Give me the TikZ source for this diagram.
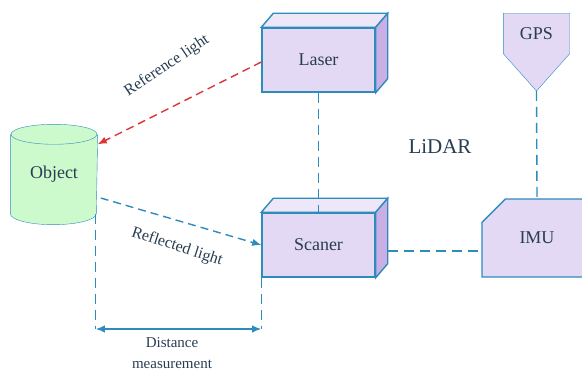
\documentclass[tikz,border=0pt]{standalone}
\usepackage{fontspec}
\setmainfont{Liberation Serif}
\usetikzlibrary{arrows.meta,shapes.misc,backgrounds}

\definecolor{linea}{RGB}{45,140,188}
\definecolor{rojo}{RGB}{218,52,52}
\definecolor{texto}{RGB}{40,60,82}
\definecolor{lila}{RGB}{227,217,245}
\definecolor{lilaclaro}{RGB}{238,231,250}
\definecolor{liladark}{RGB}{202,174,230}
\definecolor{verde}{RGB}{205,250,205}

\begin{document}
\begin{tikzpicture}[x=1pt,y=-1pt,line width=1.4pt,>={Latex[length=3.2mm,width=2.6mm]},
  caja/.style={draw=linea,fill=lila,minimum width=113pt,minimum height=64pt,inner sep=0pt,
    text=texto,font=\fontsize{18}{20}\selectfont},
  enlace/.style={draw=linea,dash pattern=on 10pt off 6pt},
  etiqueta/.style={text=texto,inner sep=0pt}]
  \useasboundingbox (0,0) rectangle (582,371);

  % cajas del LiDAR
  \node[caja] (laser) at (318.5,60) {Laser};
  \node[caja] (scaner) at (318.5,245) {Scaner};
  \foreach \n in {laser,scaner}{
    \draw[linea,fill=lilaclaro] (\n.north west) -- ++(12,-14) -- ([shift={(12,-14)}]\n.north east) -- (\n.north east) -- cycle;
    \draw[linea,fill=liladark] (\n.north east) -- ++(12,-14) -- ([shift={(12,-14)}]\n.south east) -- (\n.south east) -- cycle;
  }
  \node[caja,chamfered rectangle,chamfered rectangle corners=north west,
    chamfered rectangle xsep=27pt,chamfered rectangle ysep=31pt,
    minimum width=110pt,minimum height=78pt] (imu) at (537,238) {IMU};

  % GPS (pentagono)
  \node[etiqueta,minimum width=65pt,minimum height=39pt,font=\fontsize{18}{20}\selectfont] (gps) at (536.5,33.5) {GPS};
  \coordinate (gpspunta) at (536.5,91);
  \begin{scope}[on background layer]
    \draw[linea,fill=lila] (gps.north west) -- (gps.north east) -- (gps.south east) -- (gpspunta) -- (gps.south west) -- cycle;
  \end{scope}

  % objeto (cilindro)
  \node[etiqueta,minimum width=86pt,minimum height=78pt,font=\fontsize{18}{20}\selectfont] (object) at (54,174) {Object};
  \begin{scope}[on background layer]
    \draw[linea,fill=verde] (object.north west) -- (object.south west)
      arc[start angle=180,end angle=360,x radius=43pt,y radius=11pt] -- (object.north east);
    \draw[linea,fill=verde] (object.north) ellipse[x radius=43pt,y radius=10pt];
  \end{scope}

  \node[etiqueta,font=\fontsize{21}{24}\selectfont] (lidar) at (440,147) {LiDAR};

  % conexiones
  \draw[enlace] (laser.south) -- (scaner.north);
  \draw[enlace] ([shift={(12,6)}]scaner.east) coordinate (s1) -- (s1 -| imu.west);
  \draw[enlace] (gpspunta) -- (imu.north);

  % luz de referencia y reflejada
  \draw[->,rojo,dash pattern=on 8pt off 5pt] ([yshift=-2pt]laser.west) -- ([yshift=-10pt]object.north east);
  \node[etiqueta,rotate=34,font=\fontsize{16}{18}\selectfont] (ref) at (167,66) {Reference light};
  \draw[->,linea,dash pattern=on 8pt off 5pt] ([shift={(3,24)}]object.east) -- (scaner.west);
  \node[etiqueta,rotate=-18,font=\fontsize{16}{18}\selectfont] (refl) at (177,247) {Reflected light};

  % distancia
  \coordinate (d1) at ([xshift=-2pt]object.south east |- 0,329);
  \coordinate (d2) at (scaner.south west |- 0,329);
  \draw[enlace] ([xshift=-2pt]object.south east) -- (d1);
  \draw[enlace] (scaner.south west) -- (d2);
  \draw[<->,linea] (d1) -- (d2);
  \node[etiqueta,align=center,anchor=north,font=\fontsize{15}{21}\selectfont] (dist) at (172,337) {Distance\\measurement};
\end{tikzpicture}
\end{document}
